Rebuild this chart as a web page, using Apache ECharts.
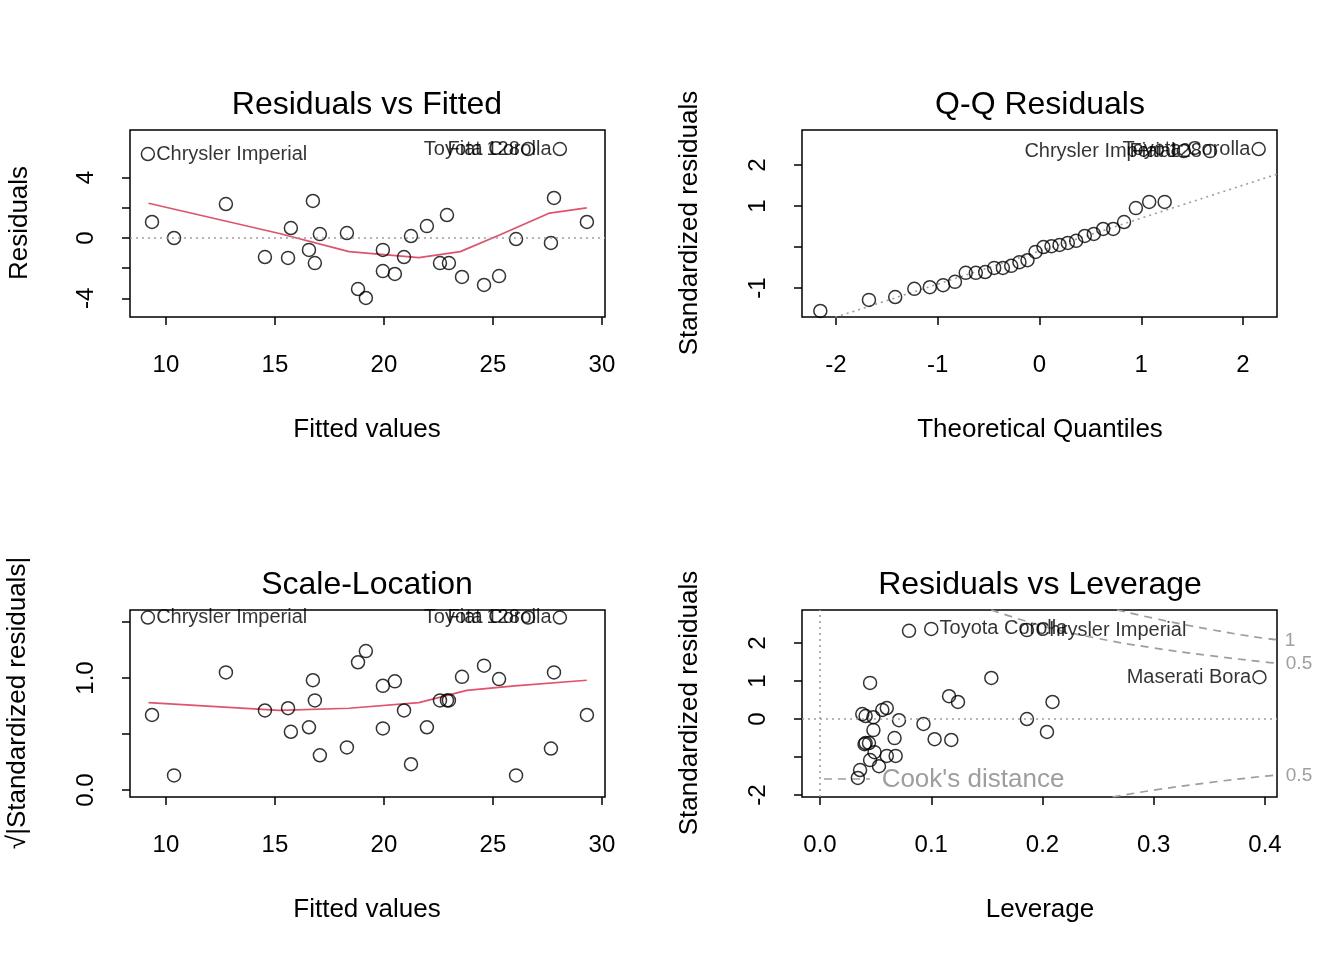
<!DOCTYPE html>
<html><head><meta charset="utf-8">
<script src="https://cdn.jsdelivr.net/npm/echarts@6/dist/echarts.min.js"></script>
<style>html,body{margin:0;background:#fff}#c{width:1344px;height:960px}</style>
</head><body><div id="c"></div>
<script>
const fitted=[9.17,9.36,10.37,12.75,14.54,15.6,15.73,16.56,16.74,16.83,17.06,18.30,18.81,19.17,19.95,19.95,20.5,20.92,21.24,21.97,22.57,22.89,22.98,23.58,24.59,25.28,26.06,26.61,27.66,27.8,28.07,29.31];
const residuals=[5.56,1.06,0,2.25,-1.26,-1.32,0.66,-0.79,2.45,-1.66,0.26,0.33,-3.38,-3.97,-0.79,-2.19,-2.38,-1.26,0.13,0.79,-1.66,1.52,-1.66,-2.58,-3.11,-2.52,-0.07,5.89,-0.33,2.65,5.89,1.06];
const sqrtStd=[1.54,0.67,0.13,1.05,0.71,0.73,0.52,0.56,0.98,0.80,0.31,0.38,1.14,1.24,0.55,0.93,0.97,0.71,0.23,0.56,0.80,0.80,0.80,1.01,1.11,0.99,0.13,1.54,0.37,1.05,1.54,0.67];
const labelsFit={0:'Chrysler Imperial',27:'Fiat 128',30:'Toyota Corolla'};
const lowessRV=[[9.2,2.3],[15.2,0.3],[18.4,-0.9],[21.6,-1.3],[23.5,-0.9],[25.3,0.2],[27.6,1.65],[29.3,2.0]];
const lowessSL=[[9.2,0.78],[15.2,0.71],[18.4,0.73],[21.6,0.78],[23.8,0.89],[26.0,0.93],[29.3,0.98]];
const theoQ=[-2.154,-1.676,-1.418,-1.230,-1.078,-0.947,-0.831,-0.725,-0.626,-0.534,-0.445,-0.360,-0.278,-0.197,-0.118,-0.039,0.039,0.118,0.197,0.278,0.360,0.445,0.534,0.626,0.725,0.831,0.947,1.078,1.230,1.418,1.676,2.154];
const stdSorted=[-1.56,-1.29,-1.22,-1.02,-0.98,-0.93,-0.85,-0.63,-0.63,-0.61,-0.51,-0.51,-0.46,-0.37,-0.32,-0.12,0,0.02,0.05,0.1,0.15,0.27,0.32,0.44,0.44,0.61,0.95,1.10,1.10,2.34,2.34,2.39];
const labelsQQ={29:'Chrysler Imperial',30:'Fiat 128',31:'Toyota Corolla'};
const qqLine=[[-2.4,-2.03],[2.4,1.83]];
const leverage=[0.034,0.036,0.038,0.041,0.041,0.040,0.045,0.045,0.048,0.048,0.049,0.053,0.056,0.060,0.060,0.067,0.068,0.071,0.080,0.093,0.100,0.103,0.116,0.118,0.124,0.154,0.186,0.186,0.204,0.209,0.395,0.044];
const stdLev=[-1.55,-1.34,0.13,0.08,-0.63,-0.66,0.95,-1.08,0.05,-0.29,-0.87,-1.24,0.24,-0.97,0.29,-0.5,-0.97,-0.03,2.32,-0.13,2.37,-0.53,0.6,-0.55,0.45,1.08,0,2.34,-0.34,0.45,1.1,-0.63];
const labelsLev={20:['Toyota Corolla','right'],27:['Chrysler Imperial','right'],30:['Maserati Bora','left']};
const cook05up=[[0.154,2.87],[0.2,2.45],[0.25,2.12],[0.3,1.87],[0.35,1.67],[0.4,1.5],[0.411,1.47]];
const cook1up=[[0.267,2.87],[0.3,2.65],[0.35,2.36],[0.4,2.12],[0.411,2.09]];
const cook05lo=[[0.263,-2.05],[0.3,-1.87],[0.35,-1.67],[0.4,-1.5],[0.411,-1.47]];

const F='Liberation Sans, Arial, sans-serif';
const sym={symbol:'circle',symbolSize:13,itemStyle:{color:'rgba(0,0,0,0)',borderColor:'#000',borderWidth:1.5}};
function pts(xs,ys,labs,defPos){return xs.map((x,i)=>{const d={value:[x,ys[i]]};const l=labs[i];if(l){const t=Array.isArray(l)?l[0]:l;const p=Array.isArray(l)?l[1]:defPos(i);d.label={show:true,formatter:t,position:p,distance:1,fontSize:20,color:'#000',fontFamily:F};}return d;});}
function ax(gi,min,max,ticks,labels,isY){return {type:'value',gridIndex:gi,min,max,splitLine:{show:false},axisLine:{show:false,onZero:false},
 axisTick:{show:true,customValues:ticks,length:8,inside:false,lineStyle:{color:'#000',width:1.5}},
 axisLabel:{customValues:labels.map(l=>l[0]),formatter:v=>{const f=labels.find(l=>Math.abs(l[0]-v)<1e-9);return f?f[1]:''},fontSize:24,fontFamily:F,color:'#000',margin:isY?32:36,rotate:isY?90:0},
 position:isY?'left':'bottom'};}
const grids=[{left:130,top:130,width:475,height:187},{left:802,top:130,width:475,height:187},{left:130,top:610,width:475,height:187},{left:802,top:610,width:475,height:187}].map(g=>Object.assign(g,{show:true,borderColor:'#000',borderWidth:1.5,backgroundColor:'transparent'}));
const xAxis=[ax(0,8.35,30.14,[10,15,20,25,30],[[10,'10'],[15,'15'],[20,'20'],[25,'25'],[30,'30']]),
 ax(1,-2.334,2.334,[-2,-1,0,1,2],[[-2,'-2'],[-1,'-1'],[0,'0'],[1,'1'],[2,'2']]),
 ax(2,8.35,30.14,[10,15,20,25,30],[[10,'10'],[15,'15'],[20,'20'],[25,'25'],[30,'30']]),
 ax(3,-0.0162,0.4108,[0,0.1,0.2,0.3,0.4],[[0,'0.0'],[0.1,'0.1'],[0.2,'0.2'],[0.3,'0.3'],[0.4,'0.4']])];
const yAxis=[ax(0,-5.23,7.15,[-4,-2,0,2,4],[[-4,'-4'],[0,'0'],[4,'4']],true),
 ax(1,-1.707,2.854,[-1,0,1,2],[[-1,'-1'],[1,'1'],[2,'2']],true),
 ax(2,-0.0625,1.607,[0,0.5,1,1.5],[[0,'0.0'],[1,'1.0']],true),
 ax(3,-2.05,2.868,[-2,-1,0,1,2],[[-2,'-2'],[0,'0'],[1,'1'],[2,'2']],true)];
const dotted={type:[2,4],color:'#9E9E9E',width:1.6};
const grey={color:'#9E9E9E',type:[8,6],width:1.7};
const red={color:'#DF536B',width:1.7};
const series=[
 {type:'scatter',xAxisIndex:0,yAxisIndex:0,...sym,data:pts(fitted,residuals,labelsFit,i=>i===0?'right':'left'),
  markLine:{silent:true,symbol:'none',label:{show:false},lineStyle:dotted,data:[{yAxis:0}]}},
 {type:'line',xAxisIndex:0,yAxisIndex:0,showSymbol:false,data:lowessRV,lineStyle:red,z:1},
 {type:'line',xAxisIndex:1,yAxisIndex:1,showSymbol:false,data:qqLine,lineStyle:dotted,z:1},
 {type:'scatter',xAxisIndex:1,yAxisIndex:1,...sym,data:pts(theoQ,stdSorted,labelsQQ,()=> 'left')},
 {type:'scatter',xAxisIndex:2,yAxisIndex:2,...sym,data:pts(fitted,sqrtStd,labelsFit,i=>i===0?'right':'left')},
 {type:'line',xAxisIndex:2,yAxisIndex:2,showSymbol:false,data:lowessSL,lineStyle:red,z:1},
 {type:'scatter',xAxisIndex:3,yAxisIndex:3,...sym,data:pts(leverage,stdLev,labelsLev,()=> 'right'),
  markLine:{silent:true,symbol:'none',label:{show:false},lineStyle:dotted,data:[{yAxis:0},{xAxis:0}]}},
 {type:'line',xAxisIndex:3,yAxisIndex:3,showSymbol:false,data:cook05up,lineStyle:grey,smooth:true,z:1},
 {type:'line',xAxisIndex:3,yAxisIndex:3,showSymbol:false,data:cook1up,lineStyle:grey,smooth:true,z:1},
 {type:'line',xAxisIndex:3,yAxisIndex:3,showSymbol:false,data:cook05lo,lineStyle:grey,smooth:true,z:1}
];
function txt(t,x,y,size,rot,color){return {type:'text',x,y,rotation:rot?Math.PI/2:0,style:{text:t,fontSize:size,fontFamily:F,fill:color||'#000',align:'center',verticalAlign:'middle'}};}
const graphic=[
 txt('Residuals vs Fitted',367,105,32),txt('Q-Q Residuals',1040,105,32),txt('Scale-Location',367,585,32),txt('Residuals vs Leverage',1040,585,32),
 txt('Fitted values',367,430,26),txt('Theoretical Quantiles',1040,430,26),txt('Fitted values',367,910,26),txt('Leverage',1040,910,26),
 txt('Residuals',20,223,26,1),txt('Standardized residuals',690,223,26,1),txt('√|Standardized residuals|',18,703,26,1),txt('Standardized residuals',690,703,26,1),
 txt("Cook's distance",973,780,26,0,'#9E9E9E'),
 txt('1',1290,641,19,0,'#9E9E9E'),txt('0.5',1299,664,19,0,'#9E9E9E'),txt('0.5',1299,776,19,0,'#9E9E9E'),
 {type:'line',shape:{x1:824,y1:779,x2:870,y2:779},style:{stroke:'#9E9E9E',lineWidth:1.7,lineDash:[8,6]}}
];
const ch=echarts.init(document.getElementById('c'),null,{renderer:'canvas'});
ch.setOption({animation:false,grid:grids,xAxis,yAxis,series,graphic});
</script></body></html>
